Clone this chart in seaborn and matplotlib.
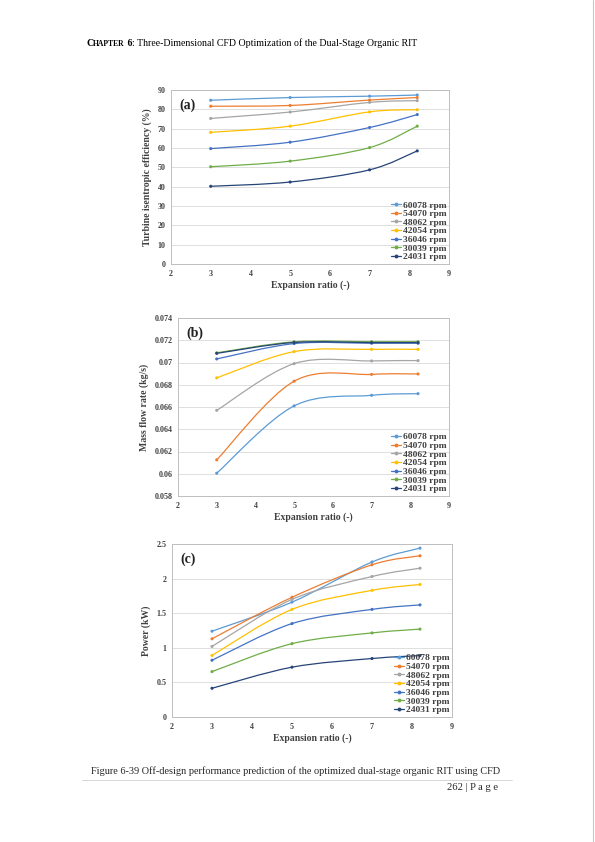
import numpy as np
import pandas as pd
import seaborn as sns
import matplotlib.pyplot as plt
from matplotlib.path import Path
from matplotlib.patches import PathPatch
from matplotlib.lines import Line2D
from matplotlib.ticker import FuncFormatter

sns.set_theme(style='white')
plt.rcParams['font.family'] = ['Liberation Serif', 'DejaVu Serif']

# data
speeds = ['60078 rpm', '54070 rpm', '48062 rpm', '42054 rpm',
          '36046 rpm', '30039 rpm', '24031 rpm']
colors = ['#5B9BD5', '#ED7D31', '#A5A5A5', '#FFC000',
          '#4472C4', '#70AD47', '#264478']
expansion = [3, 5, 7, 8.2]

efficiency = [
    [84.7, 86.1, 86.8, 87.4],
    [81.6, 82.0, 84.8, 86.1],
    [75.3, 78.6, 83.6, 84.5],
    [68.1, 71.3, 78.7, 79.8],
    [59.7, 63.0, 70.6, 77.3],
    [50.3, 53.2, 60.2, 71.3],
    [40.2, 42.4, 48.7, 58.5],
]
mass_flow = [
    [0.06005, 0.06610, 0.06705, 0.06720],
    [0.06125, 0.06832, 0.06893, 0.06897],
    [0.06570, 0.06990, 0.07014, 0.07017],
    [0.06862, 0.07098, 0.07118, 0.07118],
    [0.07032, 0.07170, 0.07173, 0.07173],
    [0.07087, 0.07186, 0.07187, 0.07187],
    [0.07082, 0.07180, 0.07179, 0.07179],
]
power = [
    [1.24, 1.66, 2.24, 2.44],
    [1.13, 1.73, 2.20, 2.33],
    [1.02, 1.70, 2.03, 2.15],
    [0.89, 1.555, 1.83, 1.915],
    [0.82, 1.35, 1.555, 1.62],
    [0.656, 1.06, 1.215, 1.27],
    [0.415, 0.72, 0.845, 0.888],
]

panels = [
    ('(a)', 'Turbine isentropic efficiency (%)', efficiency, (0, 90), np.arange(0, 91, 10)),
    ('(b)', 'Mass flow rate (kg/s)', mass_flow, (0.058, 0.074), np.arange(0.058, 0.0741, 0.002)),
    ('(c)', 'Power (kW)', power, (0, 2.5), np.arange(0, 2.51, 0.5)),
]
# plot-area boxes in page pixels: left, top, right, bottom
boxes = [(171, 90, 449, 264), (178, 318, 449, 496), (172, 544, 452, 717)]

W, H = 595, 842
txt = '#404040'


def smooth_path(xs, ys):
    # Excel-like smoothed line as cubic bezier segments
    pts = np.column_stack([xs, ys]).astype(float)
    ext = np.vstack([pts[0], pts, pts[-1]])
    verts = [pts[0]]
    codes = [Path.MOVETO]
    for i in range(len(pts) - 1):
        p0, p1, p2, p3 = ext[i], ext[i + 1], ext[i + 2], ext[i + 3]
        verts += [p1 + (p2 - p0) / 6, p2 - (p3 - p1) / 6, p2]
        codes += [Path.CURVE4] * 3
    return Path(verts, codes)


fig = plt.figure(figsize=(W / 100, H / 100), dpi=100)

for (tag, ylabel, values, ylim, yticks), (l, t, r, b) in zip(panels, boxes):
    ax = fig.add_axes([l / W, 1 - b / H, (r - l) / W, (b - t) / H])
    rows = []
    for name, ys in zip(speeds, values):
        for x, y in zip(expansion, ys):
            rows.append({'x': x, 'y': y, 'speed': name})
    df = pd.DataFrame(rows)
    for name, col in zip(speeds, colors):
        sub = df[df['speed'] == name]
        ax.add_patch(PathPatch(smooth_path(sub['x'], sub['y']), fill=False,
                               edgecolor=col, lw=0.9, zorder=3))
    sns.scatterplot(data=df, x='x', y='y', hue='speed', palette=colors,
                    s=5, marker='o', edgecolor='none', legend=False, ax=ax, zorder=4)
    ax.set_xlim(2, 9)
    ax.set_ylim(*ylim)
    ax.set_xticks(range(2, 10))
    ax.set_yticks(yticks)
    ax.yaxis.set_major_formatter(FuncFormatter(lambda v, p: f'{round(v, 4):g}'))
    ax.grid(axis='y', color='#D9D9D9', lw=0.6)
    ax.grid(axis='x', visible=False)
    for s in ax.spines.values():
        s.set_color('#BFBFBF')
        s.set_linewidth(0.7)
    ax.tick_params(length=0, labelsize=5.8, colors=txt, pad=4)
    for lab in ax.get_xticklabels() + ax.get_yticklabels():
        lab.set_fontweight('bold')
    ax.set_xlabel('Expansion ratio (-)', fontsize=7, fontweight='bold', color=txt, labelpad=2)
    ax.set_ylabel(ylabel, fontsize=7, fontweight='bold', color=txt, labelpad=4)
    ax.text(0.03, 0.95, tag, transform=ax.transAxes, fontsize=10, fontweight='bold',
            color='#222222', va='top', ha='left')
    handles = [Line2D([], [], color=c, lw=0.9, marker='o', markersize=1.8) for c in colors]
    leg = ax.legend(handles, speeds, loc='lower right', frameon=False, fontsize=6.8,
                    labelspacing=0.0, handlelength=1.0, handletextpad=0.2,
                    borderaxespad=0.1, borderpad=0.2)
    for tx in leg.get_texts():
        tx.set_fontweight('bold')
        tx.set_color(txt)

# page header
renderer = fig.canvas.get_renderer()
x0 = 86 / W
y0 = 1 - 46 / H
pieces = [('C', 7.1, 'bold'), ('HAPTER', 5.5, 'bold'), (' 6', 7.1, 'bold'),
          (': Three-Dimensional CFD Optimization of the Dual-Stage Organic RIT', 7.1, 'normal')]
for s, size, weight in pieces:
    t = fig.text(x0, y0, s, fontsize=size, fontweight=weight, color='black', va='baseline')
    x0 += t.get_window_extent(renderer).width / W

# caption and page number
fig.text(91 / W, 1 - 774 / H, 'Figure 6-39 Off-design performance prediction of the optimized '
         'dual-stage organic RIT using CFD', fontsize=7.4, va='baseline')
fig.add_artist(Line2D([82 / W, 512 / W], [1 - 780 / H] * 2, color='#D0D0D0', lw=0.6))
fig.text(498 / W, 1 - 790 / H, '262 | P a g e', fontsize=7.6, ha='right', va='baseline')
fig.add_artist(Line2D([593 / W] * 2, [0, 1], color='#C8C8C8', lw=0.8))

fig.savefig('out.png', dpi=100)
